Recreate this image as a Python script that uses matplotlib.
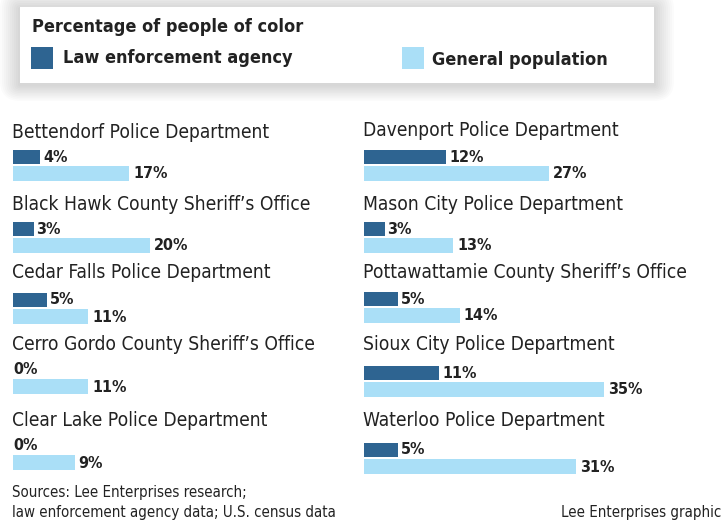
import matplotlib
matplotlib.use("Agg")
import matplotlib.pyplot as plt
from matplotlib import font_manager
from matplotlib.patches import Rectangle, FancyBboxPatch

# data
left_agencies = [
    "Bettendorf Police Department",
    "Black Hawk County Sheriff\u2019s Office",
    "Cedar Falls Police Department",
    "Cerro Gordo County Sheriff\u2019s Office",
    "Clear Lake Police Department",
]
left_law = [4, 3, 5, 0, 0]
left_pop = [17, 20, 11, 11, 9]

right_agencies = [
    "Davenport Police Department",
    "Mason City Police Department",
    "Pottawattamie County Sheriff\u2019s Office",
    "Sioux City Police Department",
    "Waterloo Police Department",
]
right_law = [12, 3, 5, 11, 5]
right_pop = [27, 13, 14, 35, 31]

DARK = "#2e6491"
LIGHT = "#aadff7"
TEXT = "#222222"

# pick a condensed face if one is installed
fonts = font_manager.fontManager.ttflist
if any(f.name == "Liberation Sans Narrow" for f in fonts):
    FONT = dict(family="Liberation Sans Narrow")
    SCALE = 1.0
elif any(f.name == "DejaVu Sans" and f.stretch == "condensed" for f in fonts):
    FONT = dict(family="DejaVu Sans", stretch="condensed")
    SCALE = 1.0
else:
    FONT = dict(family="DejaVu Sans")
    SCALE = 0.9

W, H = 721, 524
PX_PER_PCT = 6.85

fig = plt.figure(figsize=(W / 100, H / 100), dpi=100)
fig.patch.set_facecolor("white")

# overlay in pixel coordinates for the legend box and notes
bg = fig.add_axes([0, 0, 1, 1])
bg.set_xlim(0, W)
bg.set_ylim(H, 0)
bg.axis("off")

for i in range(10):
    pad = 20 - i * 2
    bg.add_patch(FancyBboxPatch((20 - pad, 9 - pad), 634 + 2 * pad, 76 + pad * 1.8,
                                boxstyle="round,pad=0,rounding_size=%d" % pad,
                                facecolor="black", edgecolor="none", alpha=0.014))
bg.add_patch(Rectangle((20, 7), 634, 76, facecolor="white", edgecolor="none"))

bg.text(32, 27, "Percentage of people of color", **FONT, weight="bold",
        fontsize=13 * SCALE, color=TEXT, va="center", ha="left")
bg.add_patch(Rectangle((31, 47), 22, 22, facecolor=DARK, edgecolor="none"))
bg.text(63, 58, "Law enforcement agency", **FONT, weight="bold",
        fontsize=13 * SCALE, color=TEXT, va="center", ha="left")
bg.add_patch(Rectangle((402, 47), 22, 22, facecolor=LIGHT, edgecolor="none"))
bg.text(432, 60, "General population", **FONT, weight="bold",
        fontsize=13 * SCALE, color=TEXT, va="center", ha="left")

bg.text(12, 492, "Sources: Lee Enterprises research;", **FONT,
        fontsize=10.8 * SCALE, color=TEXT, va="center", ha="left")
bg.text(12, 512, "law enforcement agency data; U.S. census data", **FONT,
        fontsize=10.8 * SCALE, color=TEXT, va="center", ha="left")
bg.text(561, 512, "Lee Enterprises graphic", **FONT,
        fontsize=10.8 * SCALE, color=TEXT, va="center", ha="left")


def draw_column(x0, x1, agencies, law, pop, label_y, bar_y):
    ax = fig.add_axes([x0 / W, 0, (x1 - x0) / W, 1])
    ax.set_xlim(0, (x1 - x0) / PX_PER_PCT)
    ax.set_ylim(H, 0)
    ax.axis("off")
    ax.patch.set_alpha(0)
    gap = 3 / PX_PER_PCT
    for name, lv, pv, ly, by in zip(agencies, law, pop, label_y, bar_y):
        ax.text(-0.15, ly, name, **FONT, fontsize=13.8 * SCALE, color=TEXT,
                va="center", ha="left")
        ax.barh(by, lv, height=14, left=0, color=DARK, align="center")
        ax.barh(by + 16, pv, height=15, left=0, color=LIGHT, align="center")
        ax.text(lv + gap if lv else 0.1, by, f"{lv}%", **FONT, weight="bold",
                fontsize=11.5 * SCALE, color=TEXT, va="center", ha="left")
        ax.text(pv + 1.3 * gap, by + 17, f"{pv}%", **FONT, weight="bold",
                fontsize=11.5 * SCALE, color=TEXT, va="center", ha="left")


draw_column(13, 355, left_agencies, left_law, left_pop,
            [132, 204, 273, 345, 420], [157, 229, 300, 370, 446])
draw_column(364, 721, right_agencies, right_law, right_pop,
            [130, 204, 273, 345, 420], [157, 229, 299, 373, 450])

fig.savefig("out.png", dpi=100)
